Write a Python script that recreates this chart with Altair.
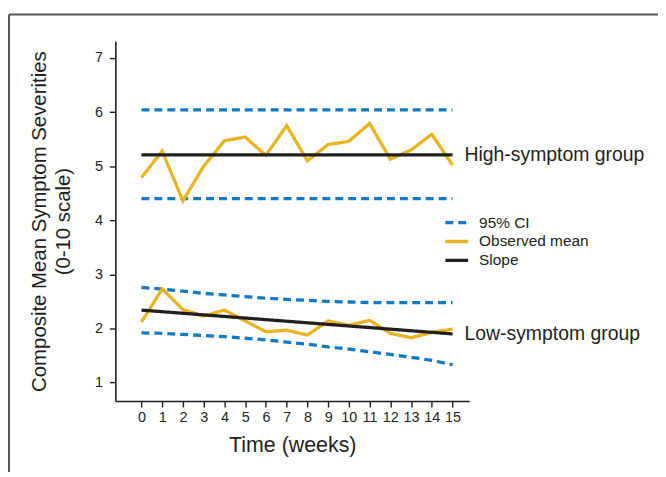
import altair as alt
import pandas as pd

weeks = list(range(16))

high_observed = [4.79, 5.28, 4.36, 5.00, 5.47, 5.54, 5.20, 5.75, 5.10, 5.40, 5.46, 5.79, 5.13, 5.30, 5.59, 5.02]
high_ci_upper = [6.04] * 16
high_ci_lower = [4.40] * 16
high_slope_weeks = [0, 15]
high_slope = [5.21, 5.21]

low_observed = [2.12, 2.73, 2.35, 2.23, 2.34, 2.14, 1.94, 1.97, 1.88, 2.14, 2.06, 2.15, 1.91, 1.83, 1.93, 1.99]
low_ci_upper = [2.76, 2.73, 2.69, 2.65, 2.62, 2.59, 2.56, 2.54, 2.52, 2.50, 2.49, 2.48, 2.48, 2.48, 2.48, 2.48]
low_ci_lower = [1.92, 1.91, 1.89, 1.87, 1.85, 1.82, 1.79, 1.75, 1.71, 1.66, 1.62, 1.57, 1.52, 1.47, 1.41, 1.33]
low_slope_weeks = [0, 15]
low_slope = [2.34, 1.90]

series_names = ["95% CI", "Observed mean", "Slope"]
series_colors = ["#1479c4", "#e8b420", "#231f20"]
series_dashes = [[8, 5], [1, 0], [1, 0]]

group_labels = ["High-symptom group", "Low-symptom group"]

rows = []
def add(group, key, series, xs, ys):
    for x, y in zip(xs, ys):
        rows.append({"week": x, "value": y, "series": series, "key": group + " " + key})

add("High", "ci_up", "95% CI", weeks, high_ci_upper)
add("High", "ci_lo", "95% CI", weeks, high_ci_lower)
add("Low", "ci_up", "95% CI", weeks, low_ci_upper)
add("Low", "ci_lo", "95% CI", weeks, low_ci_lower)
add("High", "obs", "Observed mean", weeks, high_observed)
add("Low", "obs", "Observed mean", weeks, low_observed)
add("High", "slope", "Slope", high_slope_weeks, high_slope)
add("Low", "slope", "Slope", low_slope_weeks, low_slope)
df = pd.DataFrame(rows)

labels_df = pd.DataFrame({
    "week": [high_slope_weeks[-1], low_slope_weeks[-1]],
    "value": [high_slope[-1], low_slope[-1]],
    "label": group_labels,
})

FONT = "Liberation Sans"
TXT = "#231f20"

xscale = alt.Scale(domain=[-1.26, 15.8], nice=False, zero=False)
yscale = alt.Scale(domain=[0.66, 7.31], nice=False, zero=False)

xaxis = alt.Axis(values=weeks, format="d", labelOverlap=False, title="Time (weeks)", grid=False,
                 labelFontSize=14.5, labelBound=False, labelFlush=False,
                 titleFontSize=21.5, titleFontWeight="normal", titlePadding=10,
                 tickSize=6, labelPadding=4, domainColor=TXT, tickColor=TXT,
                 domainWidth=1.6, tickWidth=1.4, labelColor=TXT, titleColor=TXT,
                 labelFont=FONT, titleFont=FONT)
yaxis = alt.Axis(values=[1, 2, 3, 4, 5, 6, 7], format="d", labelOverlap=False, grid=False,
                 labelFontSize=14.5, labelFlush=False,
                 title=["Composite Mean Symptom Severities", "(0-10 scale)"],
                 titleFontSize=20.5, titleFontWeight="normal", titleLineHeight=24,
                 titleX=-66, titleY=181, titleAngle=-90, titleAlign="center",
                 titleBaseline="bottom",
                 tickSize=6, labelPadding=7, domainColor=TXT, tickColor=TXT,
                 domainWidth=1.6, tickWidth=1.4, labelColor=TXT, titleColor=TXT,
                 labelFont=FONT, titleFont=FONT)

lines = alt.Chart(df).mark_line(strokeWidth=3.3, strokeCap="butt").encode(
    x=alt.X("week:Q", scale=xscale, axis=xaxis),
    y=alt.Y("value:Q", scale=yscale, axis=yaxis),
    detail="key:N",
    order=alt.Order("week:Q"),
    color=alt.Color("series:N", scale=alt.Scale(domain=series_names, range=series_colors),
                    legend=alt.Legend(title=None, orient="none", legendX=333, legendY=172,
                                      symbolType="M-1.35,0H1.35", symbolSize=289,
                                      symbolStrokeWidth=3.3, labelFontSize=15.5,
                                      labelFont=FONT, labelColor=TXT, labelOffset=12,
                                      rowPadding=-2.5, padding=0)),
    strokeDash=alt.StrokeDash("series:N", scale=alt.Scale(domain=series_names, range=series_dashes)),
)

texts = alt.Chart(labels_df).mark_text(align="left", baseline="middle", dx=12,
                                       fontSize=19.5, font=FONT, color=TXT).encode(
    x=alt.X("week:Q", scale=xscale, axis=xaxis),
    y=alt.Y("value:Q", scale=yscale, axis=yaxis),
    text="label:N",
)

frame_df = pd.DataFrame({"a": [0]})
frame_v = alt.Chart(frame_df).mark_rule(color="#555555", strokeWidth=2).encode(
    x=alt.value(-107), y=alt.value(-27), y2=alt.value(470))
frame_h = alt.Chart(frame_df).mark_rule(color="#555555", strokeWidth=2).encode(
    x=alt.value(-107), x2=alt.value(560), y=alt.value(-27))

chart = alt.layer(frame_v, frame_h, lines, texts).properties(
    width=356, height=362,
    autosize=alt.AutoSizeParams(type="none"),
    padding={"left": 108, "top": 32, "right": 190, "bottom": 70},
).configure_view(stroke=None)

chart.save("out.html", embed_options={"renderer": "svg", "actions": False})
